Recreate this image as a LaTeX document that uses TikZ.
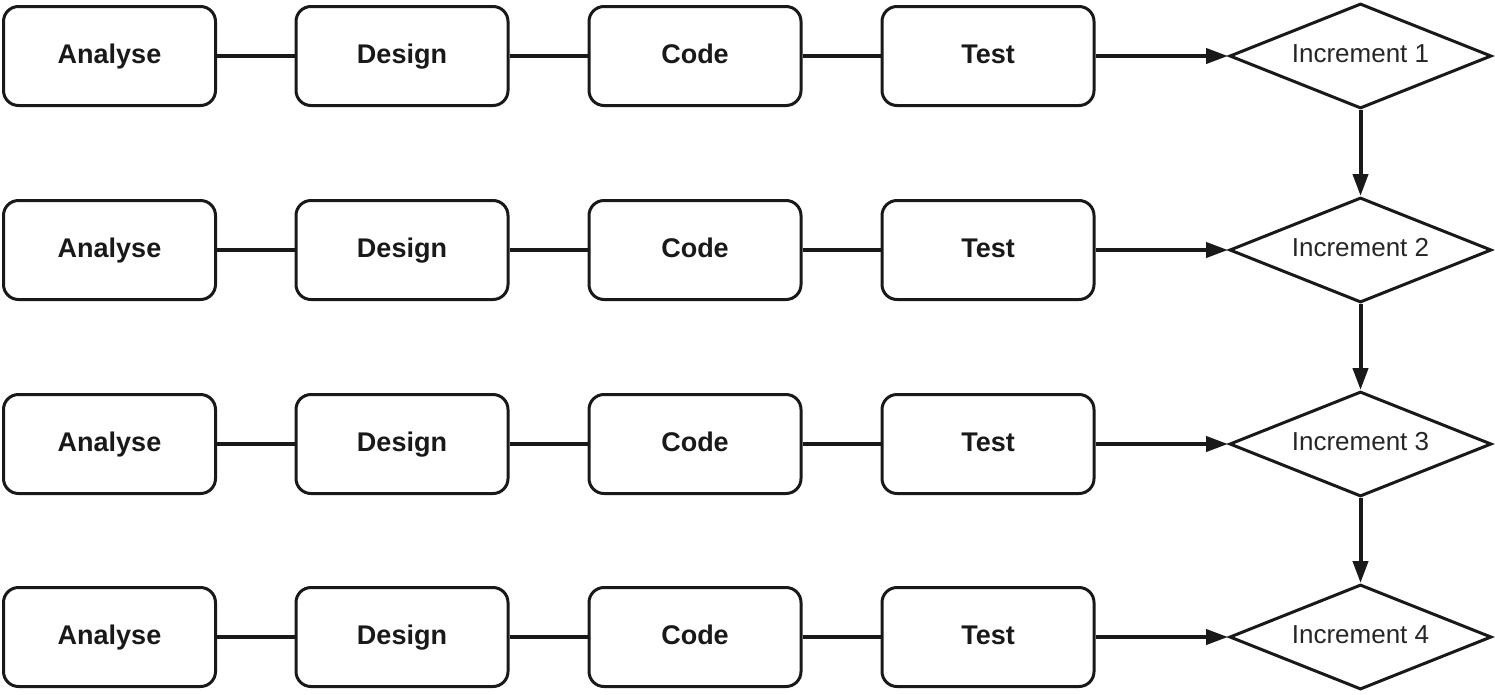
\documentclass[tikz,border=0pt]{standalone}
\usepackage{fontspec}
\setmainfont{Liberation Sans}
\usetikzlibrary{shapes.geometric,arrows.meta}
\begin{document}
\begin{tikzpicture}[x=1pt,y=-1pt,
  stepbox/.style={draw=black!90, line width=3pt, rounded corners=15pt, minimum width=212pt, minimum height=99pt, inner sep=0pt, text height=20pt, text depth=6pt, font=\fontsize{27}{30}\selectfont\bfseries, text=black!90},
  incr/.style={draw=black!90, line width=3pt, shape=diamond, aspect=2.45, minimum width=262pt, minimum height=105pt, inner sep=0pt, text height=19.5pt, text depth=6pt, font=\fontsize{26}{30}\selectfont, text=black!85},
  link/.style={line width=4.5pt, draw=black!90},
  flow/.style={line width=4pt, draw=black!90, -{Triangle[length=22pt,width=15pt]}}
]
\useasboundingbox (0,0) rectangle (1495,694);
\foreach \r/\y in {1/56,2/250,3/444,4/637}{
  \node[stepbox] (a\r) at (109.5,\y) {Analyse};
  \node[stepbox] (d\r) at (402,\y) {Design};
  \node[stepbox] (c\r) at (695,\y) {Code};
  \node[stepbox] (t\r) at (988,\y) {Test};
  \node[incr] (i\r) at (1360.5,\y) {Increment \r};
  \draw[link] (a\r) -- (d\r);
  \draw[link] (d\r) -- (c\r);
  \draw[link] (c\r) -- (t\r);
  \draw[flow] (t\r) -- (i\r);
}
\draw[flow] (i1) -- (i2);
\draw[flow] (i2) -- (i3);
\draw[flow] (i3) -- (i4);
\end{tikzpicture}
\end{document}
